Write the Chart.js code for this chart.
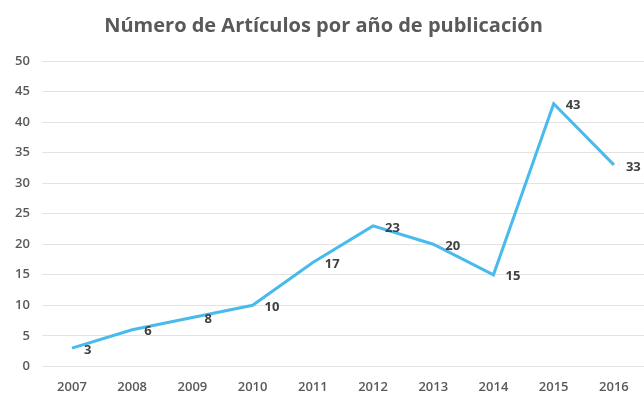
<!DOCTYPE html>
<html>
<head>
<meta charset="utf-8">
<script src="https://cdn.jsdelivr.net/npm/chart.js@4"></script>
<style>
html,body{margin:0;padding:0;background:#fff;}
#wrap{width:644px;height:407px;}
</style>
</head>
<body>
<div id="wrap"><canvas id="c" width="644" height="407"></canvas></div>
<script>
const categories = ["2007","2008","2009","2010","2011","2012","2013","2014","2015","2016"];
const articles = [3, 6, 8, 10, 17, 23, 20, 15, 43, 33];
const yTicks = [0, 5, 10, 15, 20, 25, 30, 35, 40, 45, 50];
const titleText = "Número de Artículos por año de publicación";

const labelPlugin = {
  id: 'pointLabels',
  afterDatasetsDraw(chart) {
    const ctx = chart.ctx;
    const meta = chart.getDatasetMeta(0);
    ctx.save();
    ctx.font = 'bold 13px "Open Sans", sans-serif';
    ctx.fillStyle = '#404040';
    ctx.textAlign = 'left';
    ctx.textBaseline = 'middle';
    meta.data.forEach((pt, i) => {
      ctx.fillText(String(articles[i]), pt.x + 12, pt.y + 2);
    });
    ctx.restore();
  }
};

new Chart(document.getElementById('c'), {
  type: 'line',
  data: {
    labels: categories,
    datasets: [{
      data: articles,
      borderColor: '#48BBEC',
      borderWidth: 3,
      pointRadius: 0,
      tension: 0,
      fill: false
    }]
  },
  options: {
    responsive: false,
    animation: false,
    layout: { padding: { left: 3, right: 0, top: 0, bottom: 7 } },
    plugins: {
      legend: { display: false },
      tooltip: { enabled: false },
      title: {
        display: true,
        text: titleText,
        color: '#595959',
        font: { family: '"Open Sans", sans-serif', size: 20, weight: 'bold' },
        padding: { top: 14, bottom: 23 }
      }
    },
    scales: {
      x: {
        offset: true,
        grid: { display: false },
        border: { display: false },
        ticks: {
          color: '#595959',
          padding: 5,
          font: { family: '"Open Sans", sans-serif', size: 13, weight: '600' }
        }
      },
      y: {
        min: 0,
        max: 50,
        afterBuildTicks(axis) { axis.ticks = yTicks.map(v => ({ value: v })); },
        grid: { color: '#E3E3E3', lineWidth: 1, drawTicks: false },
        border: { display: false },
        ticks: {
          color: '#595959',
          padding: 12,
          font: { family: '"Open Sans", sans-serif', size: 13, weight: '600' }
        }
      }
    }
  },
  plugins: [labelPlugin]
});
</script>
</body>
</html>
